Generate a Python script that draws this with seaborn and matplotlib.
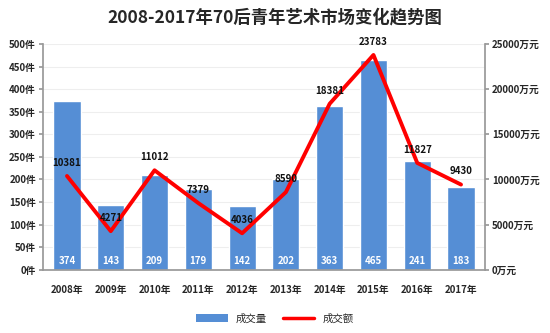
import matplotlib
matplotlib.use("Agg")
import matplotlib.pyplot as plt
import seaborn as sns
import pandas as pd
import numpy as np
from matplotlib.patches import Patch
from matplotlib.lines import Line2D

years = ["2008年", "2009年", "2010年", "2011年", "2012年", "2013年", "2014年", "2015年", "2016年", "2017年"]
volume = [374, 143, 209, 179, 142, 202, 363, 465, 241, 183]
amount = [10381, 4271, 11012, 7379, 4036, 8590, 18381, 23783, 11827, 9430]
left_ticks = [0, 50, 100, 150, 200, 250, 300, 350, 400, 450, 500]
right_ticks = [0, 5000, 10000, 15000, 20000, 25000]

sns.set_theme(style="white")
plt.rcParams['font.family'] = ['Noto Sans CJK SC', 'DejaVu Sans']

df = pd.DataFrame({"year": years, "volume": volume, "amount": amount})

fig = plt.figure(figsize=(5.5, 3.33), dpi=100)
ax = fig.add_axes([0.078, 0.19, 0.804, 0.678])

sns.barplot(data=df, x="year", y="volume", color="#558ED5", width=0.62,
            saturation=1, ax=ax)
ax.set_ylim(0, 500)
ax.set_yticks(left_ticks)
ax.set_yticklabels([f"{t}件" for t in left_ticks], fontsize=7, fontweight="bold")
ax.set_xlabel("")
ax.set_ylabel("")
ax.tick_params(axis="x", labelsize=7, pad=5)
for lab in ax.get_xticklabels():
    lab.set_fontweight("bold")
ax.tick_params(axis="y", length=3, color="#999999", pad=2, left=True)
ax.grid(axis="y", color="#EEEEEE", linewidth=0.8)
ax.set_axisbelow(True)
for s in ["top", "right"]:
    ax.spines[s].set_visible(False)
ax.spines["left"].set_color("#999999")
ax.spines["bottom"].set_color("#999999")

for i, v in enumerate(volume):
    ax.text(i, 8, str(v), ha="center", va="bottom", color="white",
            fontsize=7, fontweight="bold")

ax2 = ax.twinx()
sns.lineplot(x=np.arange(len(years)), y=amount, color="#FF0000", linewidth=2.8,
             ax=ax2, legend=False)
ax2.set_ylim(0, 25000)
ax2.set_yticks(right_ticks)
ax2.set_yticklabels([f"{t}万元" for t in right_ticks], fontsize=7, fontweight="bold")
ax2.tick_params(axis="y", length=3, color="#999999", pad=2, right=True)
ax2.set_ylabel("")
for s in ["top", "left", "bottom"]:
    ax2.spines[s].set_visible(False)
ax2.spines["right"].set_color("#999999")
ax2.set_xlim(-0.55, len(years) - 0.45)
ax.set_xlim(-0.55, len(years) - 0.45)

for i, v in enumerate(amount):
    ax2.text(i, v + 1450, str(v), ha="center", va="center", color="#111111",
             fontsize=7, fontweight="bold", clip_on=False)

fig.suptitle("2008-2017年70后青年艺术市场变化趋势图", fontsize=12.5,
             fontweight="bold", y=0.975, x=0.5)

handles = [Patch(facecolor="#558ED5", edgecolor="none"),
           Line2D([0], [0], color="#FF0000", linewidth=2.5)]
fig.legend(handles, ["成交量", "成交额"], loc="lower center",
           bbox_to_anchor=(0.5, 0.0), ncol=2, frameon=False, fontsize=7.5,
           handlelength=3, handleheight=0.8, columnspacing=1.5)

fig.savefig("out.png", dpi=100)
